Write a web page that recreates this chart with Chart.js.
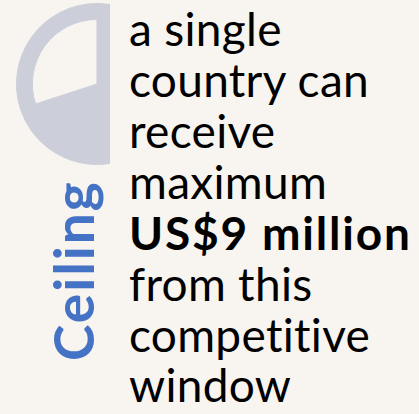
<!DOCTYPE html>
<html>
<head>
<meta charset="utf-8">
<script src="https://cdn.jsdelivr.net/npm/chart.js@4.4.0/dist/chart.umd.min.js"></script>
<style>
    html, body { margin: 0; padding: 0; }
    body { width: 419px; height: 414px; background: #f8f4ef; position: relative; overflow: hidden; font-family: Lato, "Noto Sans", sans-serif; }
    #pie-box { position: absolute; left: 0; top: 3px; width: 110px; height: 162px; overflow: hidden; }
    #title { position: absolute; left: 46px; top: 361px; transform-origin: 0 0; transform: rotate(-90deg);
        color: #4472c4; font-weight: 700; font-size: 55px; line-height: 55px; letter-spacing: 2px; white-space: nowrap; }
    .line { position: absolute; left: 129px; color: #000; font-size: 46px; line-height: 40px; letter-spacing: 0.3px; white-space: nowrap; }
    .line.bold { font-weight: 700; letter-spacing: 1.8px; }
</style>
</head>
<body>
<div id="pie-box"><canvas id="pie-chart" width="194" height="162"></canvas></div>
<div id="title">Ceiling</div>
<div id="note"></div>
<script>
// share of the circle: solid slice vs ring-only slice
const slice_labels = ['Filled', 'Open'];
const slice_values = [70, 30];
const note_lines = ['a single', 'country can', 'receive', 'maximum', 'US$9 million', 'from this', 'competitive', 'window'];
const note_baselines = [47, 98, 149, 200, 251, 302, 353, 403];
const bold_line = 'US$9 million';

const state = {
    gray: '#cccfd9',
    pie_chart: null
}

function init_view() {
    draw_note();
    pie_chart();
}

function draw_note() {
    const note = document.getElementById('note');
    // baseline sits ~38px below the top of a 40px line box at 46px Lato
    note.innerHTML = note_lines.map((line, i) => {
        const cls = line === bold_line ? 'line bold' : 'line';
        return `<div class="${cls}" style="top:${note_baselines[i] - 38}px">${line}</div>`;
    }).join('');
}

function pie_chart() {
    const container = document.getElementById('pie-chart');
    const clear = 'rgba(0,0,0,0)';
    const config = {
        type: 'pie',
        data: {
            labels: slice_labels,
            datasets: [
                {
                    // outer ring, both slices
                    data: slice_values,
                    backgroundColor: [state.gray, state.gray],
                    borderColor: [state.gray, state.gray],
                    borderWidth: 1,
                    weight: 16
                },
                {
                    // inner part, only the big slice is filled
                    data: slice_values,
                    backgroundColor: [state.gray, clear],
                    borderColor: [state.gray, clear],
                    borderWidth: 1,
                    weight: 65
                }
            ]
        },
        options: {
            responsive: false,
            animation: false,
            events: [],
            layout: { padding: 0 },
            plugins: {
                legend: { display: false },
                tooltip: { enabled: false },
                title: { display: false }
            }
        }
    }
    state.pie_chart = new Chart(container, config);
}

init_view();
</script>
</body>
</html>
